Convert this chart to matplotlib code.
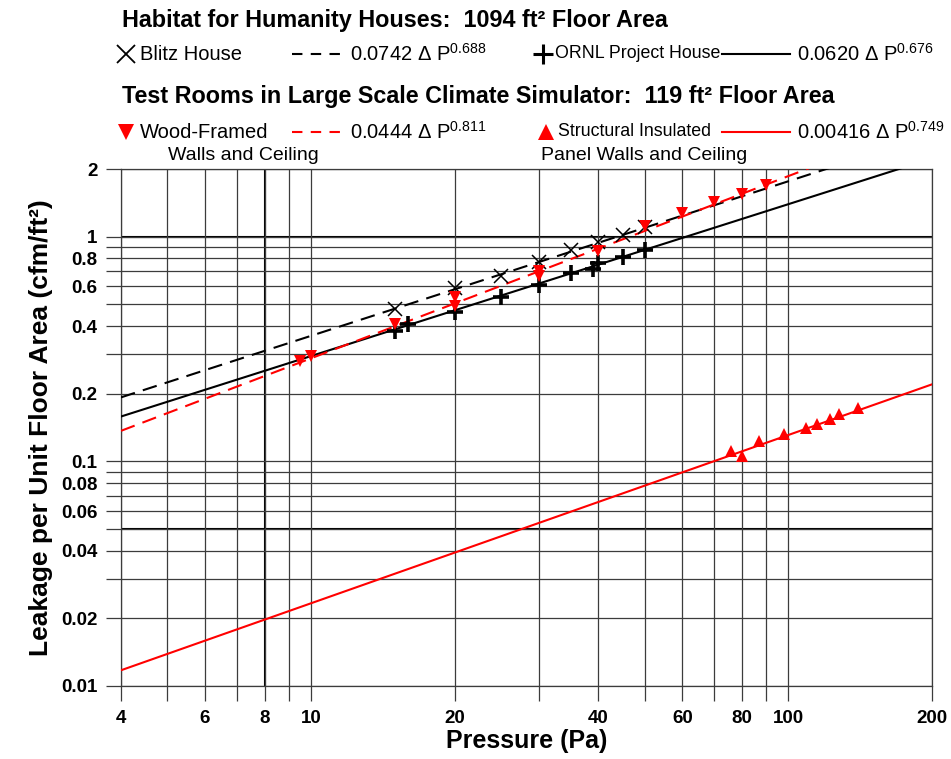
import numpy as np
import matplotlib
matplotlib.use("Agg")
import matplotlib.pyplot as plt
from matplotlib.lines import Line2D

plt.rcParams["font.family"] = ["Liberation Sans", "DejaVu Sans"]
plt.rcParams["mathtext.fontset"] = "custom"
plt.rcParams["mathtext.rm"] = "Liberation Sans"

# Habitat for Humanity houses (1094 ft2)
blitz_p = [15, 20, 25, 30, 35, 40, 45, 50]
blitz_q = [0.475, 0.59, 0.67, 0.775, 0.87, 0.95, 1.02, 1.10]
ornl_p = [15, 16, 20, 25, 30, 35, 39, 40, 45, 50]
ornl_q = [0.38, 0.41, 0.46, 0.54, 0.61, 0.69, 0.72, 0.76, 0.81, 0.87]

# Test rooms in the climate simulator (119 ft2)
wood_p = [9.5, 10, 15, 20, 20, 30, 30, 40, 50, 60, 70, 80, 90]
wood_q = [0.28, 0.295, 0.41, 0.54, 0.49, 0.70, 0.67, 0.86, 1.12, 1.27, 1.42, 1.55, 1.70]
sip_p = [76, 80, 87, 98, 109, 115, 122, 128, 140]
sip_q = [0.111, 0.106, 0.123, 0.132, 0.140, 0.146, 0.155, 0.162, 0.173]

# power-law fits  Q = C * dP^n
fit_names = ["blitz", "ornl", "wood", "sip"]
fit_coef = [0.0742, 0.0620, 0.0444, 0.00416]
fit_exp = [0.688, 0.676, 0.811, 0.749]
fit_text = ["0.0742", "0.0620", "0.0444", "0.00416"]

x_grid = [4, 5, 6, 7, 8, 9, 10, 20, 30, 40, 50, 60, 70, 80, 90, 100, 200]
x_labeled = [4, 6, 8, 10, 20, 40, 60, 80, 100, 200]
y_grid = [0.01, 0.02, 0.03, 0.04, 0.05, 0.06, 0.07, 0.08, 0.09, 0.1,
          0.2, 0.3, 0.4, 0.5, 0.6, 0.7, 0.8, 0.9, 1, 2]
y_labeled = [0.01, 0.02, 0.04, 0.06, 0.08, 0.1, 0.2, 0.4, 0.6, 0.8, 1, 2]

RED = "#ff0000"
GRID = "#3c3c3c"
W, H = 951, 759


def fxy(px, py):
    return px / W, 1 - py / H


def main():
    fig = plt.figure(figsize=(W / 100, H / 100), dpi=100)
    ax = fig.add_axes([121 / W, 1 - 686 / H, (932 - 121) / W, (686 - 169) / H])
    ax.set_xscale("log")
    ax.set_yscale("log")
    ax.set_xlim(4, 200)
    ax.set_ylim(0.01, 2)

    ax.set_xticks(x_grid)
    ax.set_xticklabels([f"{v:g}" if v in x_labeled else "" for v in x_grid])
    ax.set_yticks(y_grid)
    ax.set_yticklabels([f"{v:g}" if v in y_labeled else "" for v in y_grid])
    ax.minorticks_off()
    ax.tick_params(axis="both", direction="out", length=11, width=0.9,
                   color=GRID, labelsize=13.5, pad=6)
    for lab in ax.get_xticklabels() + ax.get_yticklabels():
        lab.set_fontweight("bold")
    ax.grid(True, color=GRID, linewidth=0.9)
    for s in ax.spines.values():
        s.set_color(GRID)
        s.set_linewidth(0.9)
    # heavier reference lines
    ax.axhline(1, color="black", linewidth=1.5, zorder=1.5)
    ax.axhline(0.05, color="black", linewidth=1.5, zorder=1.5)
    ax.axvline(8, color="black", linewidth=1.5, zorder=1.5)

    p = np.geomspace(4, 200, 200)
    styles = {
        "blitz": dict(color="black", linestyle=(0, (7, 4))),
        "ornl": dict(color="black", linestyle="-"),
        "wood": dict(color=RED, linestyle=(0, (7, 4))),
        "sip": dict(color=RED, linestyle="-"),
    }
    for name, c, n in zip(fit_names, fit_coef, fit_exp):
        ax.plot(p, c * p ** n, linewidth=1.5, zorder=3, **styles[name])

    ax.plot(blitz_p, blitz_q, "x", color="black", markersize=10, mew=1.1, zorder=4)
    ax.plot(ornl_p, ornl_q, "+", color="black", markersize=11, mew=2.6, zorder=4)
    ax.plot(wood_p, wood_q, "v", color=RED, markersize=9, mew=0, zorder=4)
    ax.plot(sip_p, sip_q, "^", color=RED, markersize=8, mew=0, zorder=4)

    ax.set_xlabel("Pressure (Pa)", fontsize=18, fontweight="bold", labelpad=2)
    ax.set_ylabel("Leakage per Unit Floor Area (cfm/ft\u00b2)", fontsize=19,
                  fontweight="bold", labelpad=6)

    # legend block above the axes
    fig.text(*fxy(122, 20), "Habitat for Humanity Houses:  1094 ft\u00b2 Floor Area",
             fontsize=16.8, fontweight="bold", va="center")
    fig.text(*fxy(122, 97),
             "Test Rooms in Large Scale Climate Simulator:  119 ft\u00b2 Floor Area",
             fontsize=16.8, fontweight="bold", va="center")

    def marker(px, py, **kw):
        x, y = fxy(px, py)
        fig.add_artist(Line2D([x], [y], transform=fig.transFigure, linestyle="none", **kw))

    def sample(px0, px1, py, **kw):
        x0, y = fxy(px0, py)
        x1, _ = fxy(px1, py)
        fig.add_artist(Line2D([x0, x1], [y, y], transform=fig.transFigure,
                              linewidth=1.5, **kw))

    def label(px, py, s, size=14.5):
        fig.text(*fxy(px, py), s, fontsize=size, va="center")

    def fit_label(px, py, i):
        label(px, py, fit_text[i] + " \u0394 $\\mathregular{P^{%.3f}}$" % fit_exp[i])

    row1, row2 = 54, 132
    marker(126, row1, marker="x", color="black", markersize=13, mew=1.3)
    label(140, row1, "Blitz House")
    sample(292, 343, row1, color="black", linestyle=(0, (5, 4)))
    fit_label(350, row1, 0)
    marker(543, row1, marker="+", color="black", markersize=15, mew=2.2)
    label(555, row1, "ORNL Project House", 12.8)
    sample(722, 790, row1, color="black")
    fit_label(797, row1, 1)

    marker(126, row2, marker="v", color=RED, markersize=12, mew=0)
    label(140, row2, "Wood-Framed")
    sample(292, 343, row2, color=RED, linestyle=(0, (5, 4)))
    fit_label(350, row2, 2)
    marker(546, row2, marker="^", color=RED, markersize=11, mew=0)
    label(558, row2, "Structural Insulated", 12.8)
    sample(722, 790, row2, color=RED)
    fit_label(797, row2, 3)

    label(168, 156, "Walls and Ceiling", 14)
    label(541, 156, "Panel Walls and Ceiling", 14)

    fig.savefig("out.png", dpi=100)
    return 0


if __name__ == "__main__":
    raise SystemExit(main())
